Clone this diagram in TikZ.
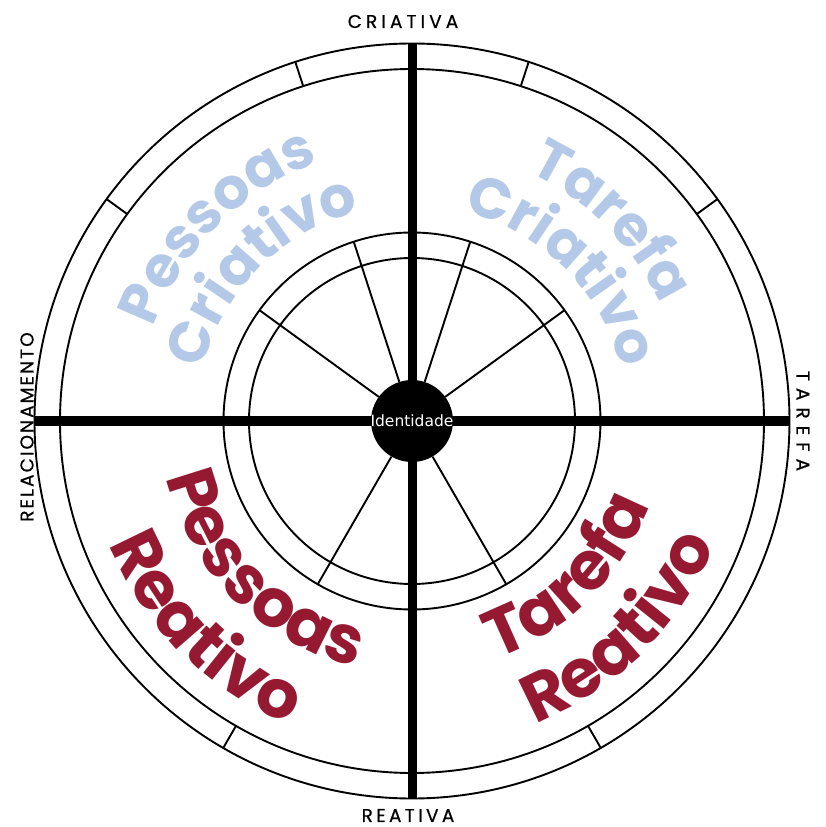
\documentclass[tikz,border=0pt]{standalone}
\usepackage{fontspec}
\usepackage{tikz}
\usetikzlibrary{decorations.text}
\newfontfamily\wheelsans{Poppins}
\newfontfamily\polesans{Poppins}[FakeBold=0.6]
\newfontfamily\hubsans{DejaVu Sans}
\definecolor{SkyCreative}{HTML}{B4C9E8}
\definecolor{WineReactive}{HTML}{961932}

\begin{document}
\begin{tikzpicture}[x=1pt,y=1pt,
    ring/.style={line width=1.9pt},
    axis/.style={line width=9pt},
    pole/.style={inner sep=0pt,font=\polesans\fontsize{18.5}{18.5}\selectfont}]
  \useasboundingbox (-412,-406) rectangle (413,421);
  \draw[ring] (0,0) circle (377.5) (0,0) circle (352) (0,0) circle (188.5) (0,0) circle (163);
  \coordinate (north) at (90:377.5);
  \coordinate (south) at (270:377.5);
  \coordinate (west) at (180:377.5);
  \coordinate (east) at (0:377.5);
  \draw[axis] (west) -- (east);
  \draw[axis] (north) -- (south);
  \node[circle,fill=black,minimum size=82pt,inner sep=0pt] (hub) at (0,0) {};
  \node[text=white,font=\hubsans\fontsize{15.5}{15.5}\selectfont] (id) at (0,0) {Identidade};
  \foreach \a in {36,72,108,144,240,300}{
    \draw[ring] (hub.\a) -- (\a:188.5);
    \draw[ring] (\a:352) -- (\a:377.5);
  }
  \foreach \s/\e/\r/\fs/\col/\w in {180/90/275/57/SkyCreative/Pessoas,180/90/216/57/SkyCreative/Criativo,
      90/0/275/57/SkyCreative/Tarefa,90/0/216/57/SkyCreative/Criativo,
      180/270/252/67/WineReactive/Pessoas,180/270/327/67/WineReactive/Reativo,
      270/360/252/67/WineReactive/Tarefa,270/360/327/67/WineReactive/Reativo}{
    \wheelsans\bfseries\fontsize{\fs}{\fs}\selectfont
    \path[decorate,decoration={text along path,text/.expanded=\w,text color=\col,text align=center}]
      (\s:\r) arc[start angle=\s,end angle=\e,radius=\r];
  }
  \node[pole] (criativa) at (-9,399.5) {\addfontfeatures{LetterSpace=22}CRIATIVA};
  \node[pole] (reativa) at (-4,-394.5) {\addfontfeatures{LetterSpace=18}REATIVA};
  \node[pole,rotate=90] (relac) at (-385,-6) {\addfontfeatures{LetterSpace=11}RELACIONAMENTO};
  \node[pole,rotate=-90] (tarefa) at (391,0) {\addfontfeatures{LetterSpace=38}TAREFA};
\end{tikzpicture}
\end{document}
